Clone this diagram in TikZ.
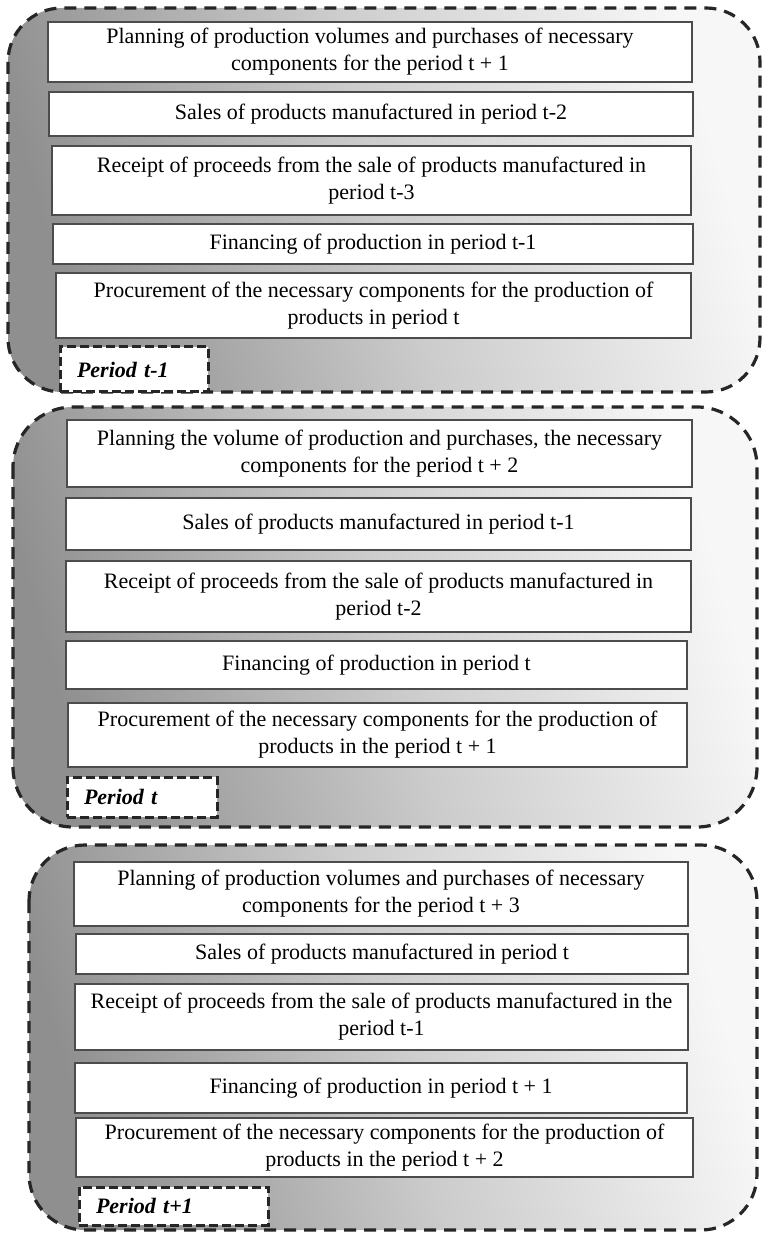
\documentclass[tikz,border=0pt]{standalone}
\usepackage{fontspec}
\setmainfont{Liberation Serif}

\begin{document}
\begin{tikzpicture}[x=0.5pt, y=-0.5pt,
    font=\fontsize{11pt}{13.5pt}\selectfont,
    panel/.style={draw=black!85, line width=1.6pt, dash pattern=on 6pt off 4pt,
        left color=black!44, right color=black!3, middle color=black!20, shading angle=106},
    task/.style={draw=black!70, fill=white, line width=0.6pt, align=center, inner sep=0pt},
    periodtag/.style={draw=black!85, fill=white, line width=1.5pt, dash pattern=on 4.5pt off 2pt,
        align=left, inner xsep=8.5pt, inner ysep=0pt,
        font=\fontsize{11pt}{13.5pt}\selectfont\bfseries\itshape},
]

    \useasboundingbox (0,0) rectangle (763,1234);

    % period t-1
    \path[panel, rounded corners=27pt] (8,8) rectangle (760,392);
    \node[task, minimum width=322pt, minimum height=30pt] (p1plan) at (370,52)
        {Planning of production volumes and purchases of necessary\\components for the period t + 1};
    \node[task, minimum width=322pt, minimum height=22pt] (p1sales) at (371,114)
        {Sales of products manufactured in period t-2};
    \node[task, minimum width=319.5pt, minimum height=34.5pt] (p1receipt) at (371.5,180.5)
        {Receipt of proceeds from the sale of products manufactured in\\period t-3};
    \node[task, minimum width=320pt, minimum height=20pt] (p1finance) at (373,244)
        {Financing of production in period t-1};
    \node[task, minimum width=317.5pt, minimum height=32.5pt] (p1procure) at (373.5,305.5)
        {Procurement of the necessary components for the production of\\products in period t};
    \node[periodtag, text width=57pt, minimum height=22.5pt] (p1tag) at (134,369.5) {Period t-1};

    % period t
    \path[panel, rounded corners=30pt] (13,407) rectangle (757,827);
    \node[task, minimum width=312.5pt, minimum height=33.5pt] (p2plan) at (379.5,453.5)
        {Planning the volume of production and purchases, the necessary\\components for the period t + 2};
    \node[task, minimum width=312.5pt, minimum height=26pt] (p2sales) at (378.5,524)
        {Sales of products manufactured in period t-1};
    \node[task, minimum width=312.5pt, minimum height=35.5pt] (p2receipt) at (378.5,596.5)
        {Receipt of proceeds from the sale of products manufactured in\\period t-2};
    \node[task, minimum width=310.5pt, minimum height=24pt] (p2finance) at (376.5,665)
        {Financing of production in period t};
    \node[task, minimum width=309.5pt, minimum height=32pt] (p2procure) at (377.5,735)
        {Procurement of the necessary components for the production of\\products in the period t + 1};
    \node[periodtag, text width=58pt, minimum height=20pt] (p2tag) at (142,797) {Period t};

    % period t+1
    \path[panel, rounded corners=28pt] (29,845) rectangle (757,1230);
    \node[task, minimum width=307pt, minimum height=32pt] (p3plan) at (381,894)
        {Planning of production volumes and purchases of necessary\\components for the period t + 3};
    \node[task, minimum width=306pt, minimum height=20pt] (p3sales) at (382,954)
        {Sales of products manufactured in period t};
    \node[task, minimum width=306.5pt, minimum height=33pt] (p3receipt) at (381.5,1017)
        {Receipt of proceeds from the sale of products manufactured in the\\period t-1};
    \node[task, minimum width=306pt, minimum height=25pt] (p3finance) at (381,1088)
        {Financing of production in period t + 1};
    \node[task, minimum width=308.5pt, minimum height=29.5pt] (p3procure) at (384.5,1147.5)
        {Procurement of the necessary components for the production of\\products in the period t + 2};
    \node[periodtag, text width=77.5pt, minimum height=19pt] (p3tag) at (173.5,1206) {Period t+1};

\end{tikzpicture}
\end{document}
